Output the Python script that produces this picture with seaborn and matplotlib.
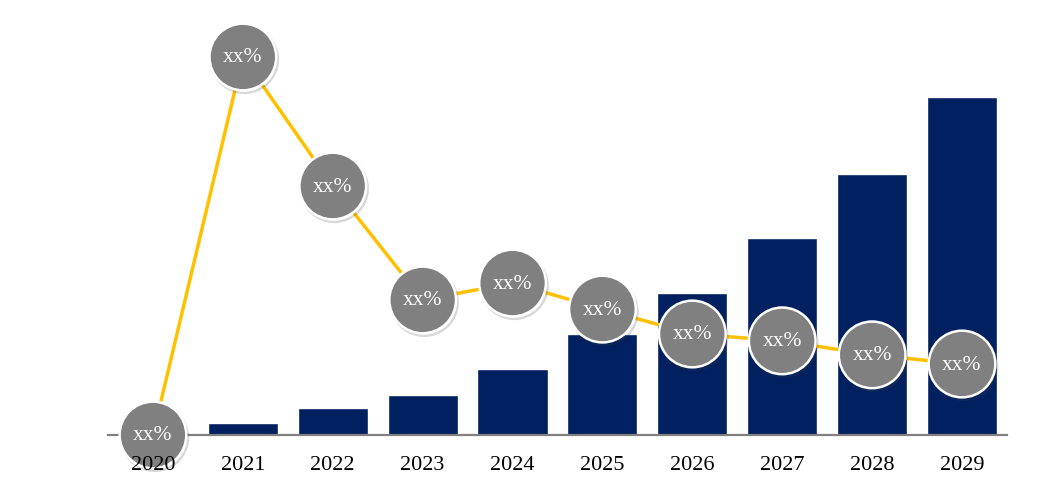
import numpy as np
import matplotlib
matplotlib.use('Agg')
import matplotlib.pyplot as plt
import matplotlib.patheffects as pe
import seaborn as sns

# data
years = ['2020', '2021', '2022', '2023', '2024', '2025', '2026', '2027', '2028', '2029']
market_size = [1, 3.5, 8, 11.8, 19.5, 29.9, 42, 58.3, 77.2, 100]
growth = [0, 132.1, 87.0, 47.2, 53.1, 44.0, 35.3, 32.9, 28.0, 24.8]
growth_labels = ['xx%'] * len(years)

sns.set_theme(style='white')
plt.rcParams['font.family'] = ['Liberation Serif', 'DejaVu Serif']

fig = plt.figure(figsize=(10.63, 5.02), dpi=100)
ax = fig.add_axes([0.1016, 0.1315, 0.8457, 0.741])

sns.barplot(x=years, y=market_size, color='#002060', saturation=1,
            width=0.78, edgecolor='white', linewidth=1, ax=ax)
ax.set_xlim(-0.5, 9.5)
ax.set_ylim(0, 110)
ax.set_yticks([])
ax.set_ylabel('')
ax.set_xticklabels([])
for s in ['top', 'right', 'left']:
    ax.spines[s].set_visible(False)
ax.spines['bottom'].set_color('#808080')
ax.spines['bottom'].set_linewidth(1.6)
ax.tick_params(axis='x', length=0)

ax2 = ax.twinx()
pos = np.arange(len(years))
# line first, then circles with a soft shadow on top
sns.lineplot(x=pos, y=growth, ax=ax2, color='#FFC000', linewidth=2.5, clip_on=False)
sns.lineplot(x=pos, y=growth, ax=ax2, linestyle='', marker='o', markersize=48,
             markerfacecolor='#808080', markeredgecolor='white', markeredgewidth=1.8,
             clip_on=False,
             path_effects=[pe.SimpleLineShadow(offset=(1.2, -1.8), alpha=0.2, shadow_color='#404040'),
                           pe.Normal()])
ax2.set_ylim(0, 130)
ax2.set_xlim(-0.5, 9.5)
ax2.set_yticks([])
ax2.set_ylabel('')
for s in ax2.spines.values():
    s.set_visible(False)

for x, y, t in zip(pos, growth, growth_labels):
    ax2.text(x, y, t, ha='center', va='center', color='white', fontsize=15.5,
             clip_on=False, zorder=5)

# year labels drawn on top of the circles, as in the reference
for x, t in zip(pos, years):
    ax2.text(x, -0.08, t, transform=ax2.get_xaxis_transform(), ha='center',
             va='center', color='black', fontsize=16, clip_on=False, zorder=6)

fig.savefig('out.png', dpi=100)
